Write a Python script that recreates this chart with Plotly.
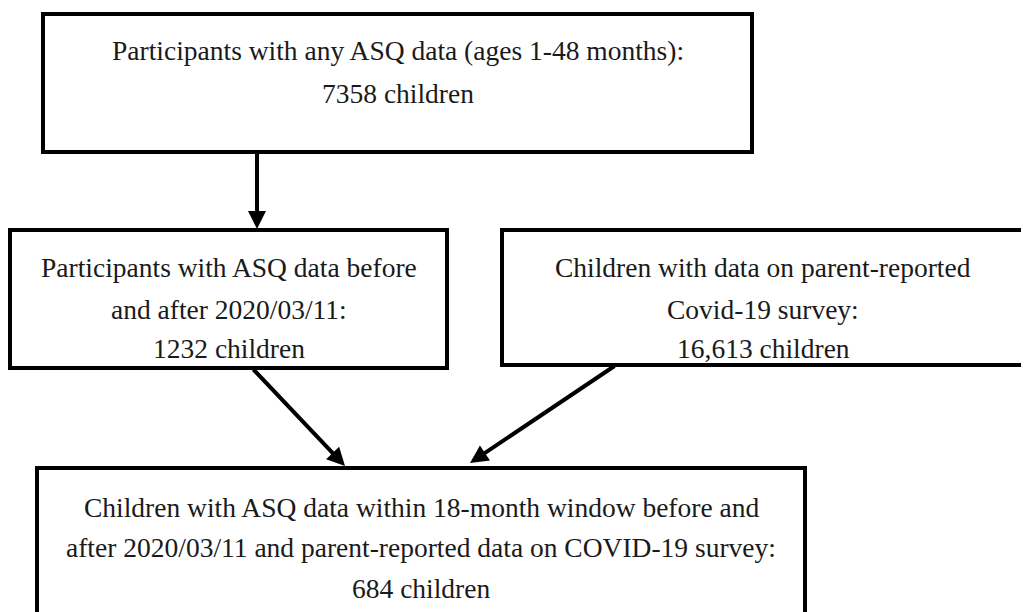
import plotly.graph_objects as go

# ---- content (text data) ----
box1_lines = ["Participants with any ASQ data (ages 1-48 months):", "7358 children"]
box2_lines = ["Participants with ASQ data before", "and after 2020/03/11:", "1232 children"]
box3_lines = ["Children with data on parent-reported", "Covid-19 survey:", "16,613 children"]
box4_lines = ["Children with ASQ data within 18-month window before and",
              "after 2020/03/11 and parent-reported data on COVID-19 survey:",
              "684 children"]

# ---- layout geometry (page pixels, y down) ----
boxes = [
    dict(x0=43, y0=14, x1=752, y1=152, lines=box1_lines, ys=[50, 93]),
    dict(x0=10, y0=230, x1=447, y1=368, lines=box2_lines, ys=[267, 309, 348]),
    dict(x0=502, y0=230, x1=1045, y1=365, lines=box3_lines, ys=[267, 309, 348], cx=763),
    dict(x0=37, y0=468, x1=805, y1=650, lines=box4_lines, ys=[507, 547, 588]),
]
arrows = [
    dict(x0=257, y0=152, x1=257, y1=229),
    dict(x0=252, y0=368, x1=345, y1=466),
    dict(x0=616, y0=365, x1=470, y1=463),
]

W, H = 1029, 612
OFF = 8  # page body margin
FONT = "Liberation Serif"
TXT = "#1a1a1a"

fig = go.Figure()
shapes = []
annotations = []
for b in boxes:
    shapes.append(dict(type="rect", xref="x", yref="y", x0=b["x0"], y0=b["y0"],
                       x1=b["x1"], y1=b["y1"], line=dict(color="black", width=4),
                       fillcolor="rgba(0,0,0,0)"))
    cx = b.get("cx", (b["x0"] + b["x1"]) / 2)
    for t, yy in zip(b["lines"], b["ys"]):
        annotations.append(dict(x=cx, y=yy, xref="x", yref="y", text=t,
                                showarrow=False, xanchor="center", yanchor="middle",
                                font=dict(family=FONT, size=27.5, color=TXT)))
for a in arrows:
    annotations.append(dict(x=a["x1"], y=a["y1"], ax=a["x0"], ay=a["y0"],
                            xref="x", yref="y", axref="x", ayref="y", text="",
                            showarrow=True, arrowhead=2, arrowsize=0.9,
                            arrowwidth=4, arrowcolor="black", standoff=0))

fig.update_layout(
    width=W, height=H, margin=dict(l=0, r=0, t=0, b=0),
    paper_bgcolor="white", plot_bgcolor="white",
    xaxis=dict(range=[OFF, W + OFF], visible=False, fixedrange=True),
    yaxis=dict(range=[H + OFF, OFF], visible=False, fixedrange=True),
    shapes=shapes, annotations=annotations, showlegend=False,
)
fig.write_html("out.html")
